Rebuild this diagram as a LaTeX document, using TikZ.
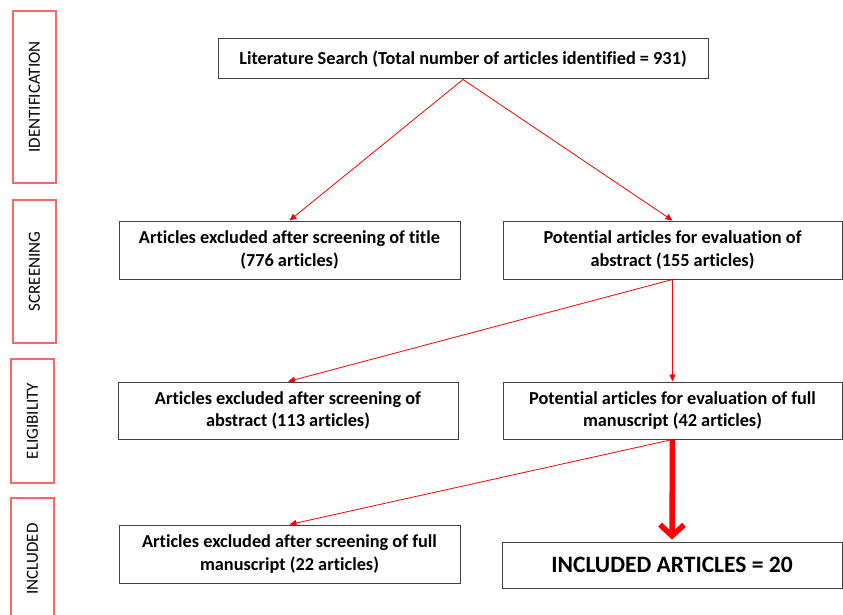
\documentclass[tikz,border=0pt]{standalone}
\usepackage{fontspec}
\setmainfont{Carlito}[Ligatures=NoCommon]
\usetikzlibrary{arrows.meta}
\tikzset{
  stagebox/.style={draw=red!60, line width=1.2pt, rotate=90, inner sep=0pt, minimum height=43pt, font=\fontsize{17}{19}\selectfont},
  flowbox/.style={draw=black!75, line width=1pt, align=center, inner sep=0pt, font=\bfseries\fontsize{18.3}{22.5}\selectfont},
  thinarrow/.style={draw=red, line width=0.8pt, -{Triangle[length=7pt,width=6pt]}},
  thickarrow/.style={draw=red, line width=5.5pt, shorten >=2pt, -{Straight Barb[length=11pt,width=24pt]}}
}
\newcommand{\stage}[5]{\node[stagebox, minimum width=#4] (#1) at (#2,#3) {#5};}
\newcommand{\flownode}[6]{\node[flowbox, minimum width=#4, minimum height=#5] (#1) at (#2,#3) {#6};}

\begin{document}
\begin{tikzpicture}[x=1pt,y=-1pt]
\useasboundingbox (0,0) rectangle (843,615);
% stage labels
\stage{ident}{34.5}{97}{172pt}{IDENTIFICATION}
\stage{screen}{34.5}{271.5}{143pt}{SCREENING}
\stage{elig}{32.5}{421}{124pt}{ELIGIBILITY}
\stage{incl}{32.5}{559}{122pt}{INCLUDED}
% row 1
\flownode{search}{463}{59}{490pt}{40pt}{Literature Search (Total number of articles identified = 931)}
% row 2
\flownode{extitle}{289.5}{250}{341pt}{58pt}{Articles excluded after screening of title\\(776 articles)}
\flownode{potabs}{672.5}{250}{339pt}{58pt}{Potential articles for evaluation of\\abstract (155 articles)}
% row 3
\flownode{exabs}{288}{410.5}{340pt}{57pt}{Articles excluded after screening of\\abstract (113 articles)}
\flownode{potfull}{672.5}{410.5}{339pt}{57pt}{Potential articles for evaluation of full\\manuscript (42 articles)}
% row 4
\flownode{exfull}{289.5}{554}{341pt}{58pt}{Articles excluded after screening of full\\manuscript (22 articles)}
\node[flowbox, minimum width=340pt, minimum height=46pt, font=\bfseries\fontsize{23.5}{27}\selectfont] (final) at (672,565) {INCLUDED ARTICLES = 20};
% connectors
\draw[thinarrow] (search.south) -- (extitle.north);
\draw[thinarrow] (search.south) -- (potabs.north);
\draw[thinarrow] (potabs.south) -- (exabs.north);
\draw[thinarrow] (potabs.south) -- (potfull.north);
\draw[thinarrow] (potfull.south) -- (exfull.north);
\draw[thickarrow] (potfull.south) -- (final.north);
\end{tikzpicture}
\end{document}
